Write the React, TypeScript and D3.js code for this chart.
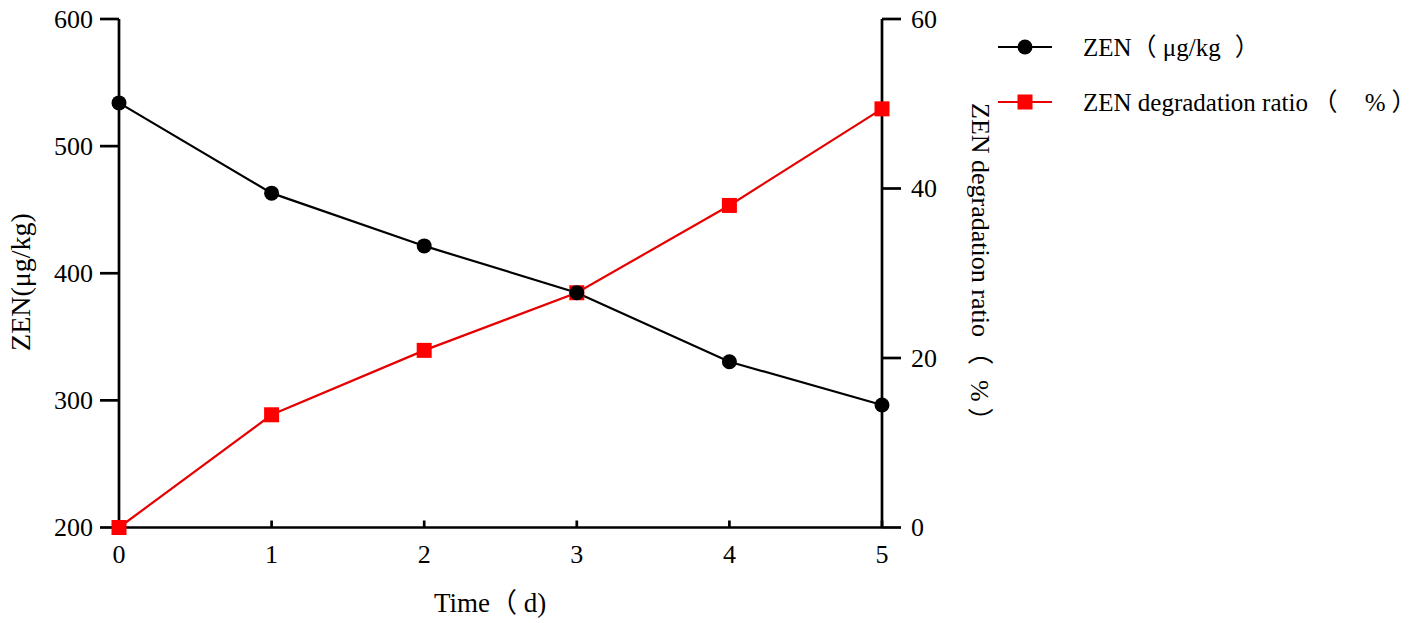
import React from "react";
import * as d3 from "d3";

const days = [0, 1, 2, 3, 4, 5];
const zenValues = [534, 463, 421.5, 384.7, 330.4, 296.4];
const ratioValues = [0, 13.3, 20.9, 27.7, 38.0, 49.4];
const leftTicks = [200, 300, 400, 500, 600];
const rightTicks = [0, 20, 40, 60];

const W = 1417;
const H = 623;
const FONT = "'Liberation Serif', 'Times New Roman', 'Noto Sans CJK SC', serif";

export default function App() {
  const x = d3.scaleLinear().domain([0, 5]).range([119, 882]);
  const yL = d3.scaleLinear().domain([200, 600]).range([527.5, 19]);
  const yR = d3.scaleLinear().domain([0, 60]).range([527.5, 19]);

  const zenLine = d3
    .line<number>()
    .x((_, i) => x(days[i]))
    .y((v) => yL(v))(zenValues) as string;
  const ratioLine = d3
    .line<number>()
    .x((_, i) => x(days[i]))
    .y((v) => yR(v))(ratioValues) as string;

  const x0 = x(0);
  const x1 = x(5);
  const yb = yL(200);

  return (
    <svg
      width={W}
      height={H}
      style={{ position: "absolute", left: 0, top: 0, background: "#fff" }}
      fontFamily={FONT}
    >
      {/* axes */}
      <g stroke="#000" strokeWidth={2.7} fill="none">
        <line x1={x0} y1={yL(600)} x2={x0} y2={yb} />
        <line x1={x1} y1={yR(60)} x2={x1} y2={yb} />
        <line x1={x0} y1={yb} x2={x1} y2={yb} />
        {leftTicks.map((t) => (
          <line key={"l" + t} x1={x0 - 19} x2={x0} y1={yL(t)} y2={yL(t)} />
        ))}
        {rightTicks.map((t) => (
          <line key={"r" + t} x1={x1} x2={x1 + 19} y1={yR(t)} y2={yR(t)} />
        ))}
        {days.map((d) => (
          <line key={"x" + d} x1={x(d)} x2={x(d)} y1={yb} y2={yb - 7} />
        ))}
      </g>
      {/* tick labels */}
      <g fontSize={26} fill="#000">
        {leftTicks.map((t) => (
          <text key={"lt" + t} x={x0 - 26} y={yL(t)} textAnchor="end" dominantBaseline="central">
            {t}
          </text>
        ))}
        {rightTicks.map((t) => (
          <text key={"rt" + t} x={x1 + 29} y={yR(t)} textAnchor="start" dominantBaseline="central">
            {t}
          </text>
        ))}
        {days.map((d) => (
          <text key={"xt" + d} x={x(d)} y={554} textAnchor="middle" dominantBaseline="central">
            {d}
          </text>
        ))}
      </g>
      {/* axis titles */}
      <g fill="#000">
        <text x={434} y={603} fontSize={27} dominantBaseline="central">
          Time（ d)
        </text>
        <text
          transform={`translate(20,282) rotate(-90)`}
          textAnchor="middle"
          dominantBaseline="central"
          fontSize={28}
        >
          ZEN(μg/kg)
        </text>
        <text
          transform={`translate(980,103) rotate(90)`}
          textAnchor="start"
          dominantBaseline="central"
          fontSize={26}
        >
          ZEN degradation ratio<tspan dx={2}>（</tspan>
          <tspan dx={8.5}> %</tspan>
          <tspan dx={6}>）</tspan>
        </text>
      </g>
      {/* series */}
      <path d={zenLine} fill="none" stroke="#000" strokeWidth={2.2} />
      <path d={ratioLine} fill="none" stroke="#e60000" strokeWidth={2.2} />
      {ratioValues.map((v, i) => (
        <rect key={"s" + i} x={x(days[i]) - 7.5} y={yR(v) - 7.5} width={15} height={15} fill="#ff0000" />
      ))}
      {zenValues.map((v, i) => (
        <circle key={"c" + i} cx={x(days[i])} cy={yL(v)} r={7.5} fill="#000" />
      ))}
      {/* legend */}
      <g fontSize={25}>
        <line x1={998} x2={1052} y1={47} y2={47} stroke="#000" strokeWidth={2.2} />
        <circle cx={1025} cy={47} r={7.5} fill="#000" />
        <text x={1083} y={47} dominantBaseline="central">
          ZEN（ μg/kg<tspan dx={14}>）</tspan>
        </text>
        <line x1={998} x2={1052} y1={102} y2={102} stroke="#e60000" strokeWidth={2.2} />
        <rect x={1017.5} y={94.5} width={15} height={15} fill="#ff0000" />
        <text x={1083} y={102} dominantBaseline="central">
          ZEN degradation ratio<tspan dx={4.5}>（</tspan>
          <tspan dx={21}> %</tspan>
          <tspan dx={6}>）</tspan>
        </text>
      </g>
    </svg>
  );
}
